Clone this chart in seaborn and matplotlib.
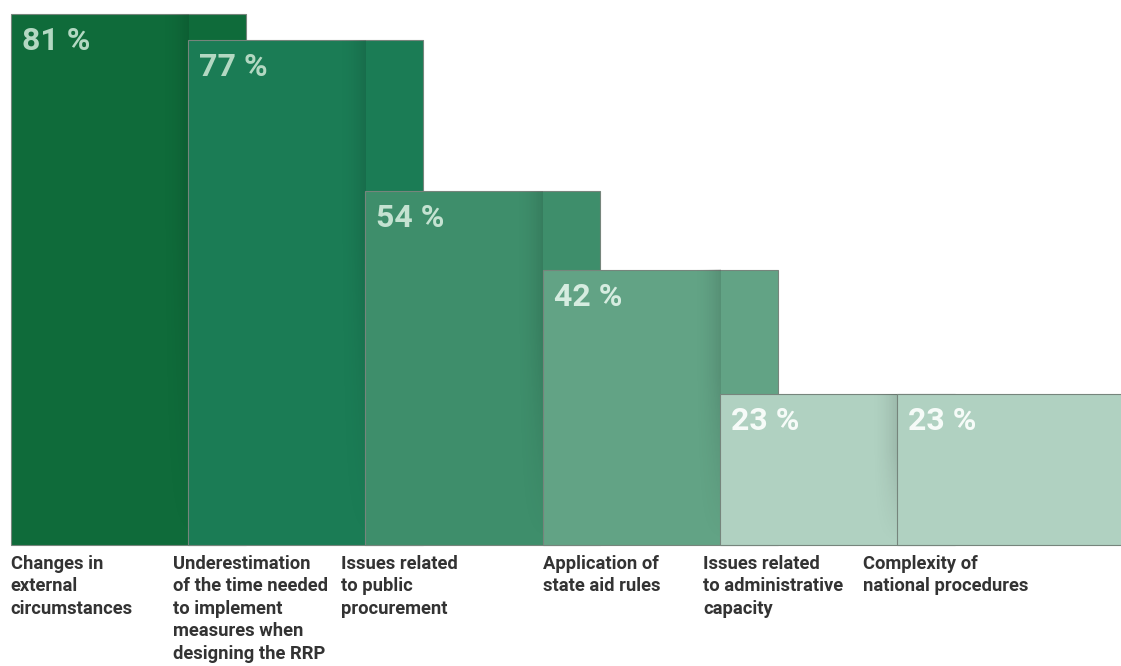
import numpy as np
import pandas as pd
import matplotlib
matplotlib.use("Agg")
import matplotlib.pyplot as plt
import seaborn as sns

categories = [
    "Changes in\nexternal\ncircumstances",
    "Underestimation\nof the time needed\nto implement\nmeasures when\ndesigning the RRP",
    "Issues related\nto public\nprocurement",
    "Application of\nstate aid rules",
    "Issues related\nto administrative\ncapacity",
    "Complexity of\nnational procedures",
]
values = [81, 77, 54, 42, 23, 23]
value_labels = ["81 %", "77 %", "54 %", "42 %", "23 %", "23 %"]

bar_colors = ["#0f6b3a", "#1b7c55", "#3e8e6b", "#62a385", "#b0d1c1", "#b0d1c1"]
value_colors = ["#b3d8c2", "#b3d8c2", "#c4e2d1", "#d6ece0", "#f6fbf8", "#f6fbf8"]
label_shift_px = [0, -15, -24, 0, -17, -34]

sns.set_theme(style="white")
plt.rcParams["font.family"] = ["Roboto", "DejaVu Sans"]

W, H, DPI = 1121, 666, 100
fig = plt.figure(figsize=(W / DPI, H / DPI), dpi=DPI)
ax = fig.add_axes([0, 0, 1, 1])

df = pd.DataFrame({"cat": categories, "val": values})
BW = 1.325
sns.barplot(data=df, x="cat", y="val", hue="cat", palette=bar_colors,
            legend=False, width=BW, ax=ax, saturation=1,
            edgecolor="#76857c", linewidth=0.8)

px_per_unit = 177.3
x_low = -BW / 2 - 10.7 / px_per_unit
ax.set_xlim(x_low, x_low + W / px_per_unit)
px_per_pct = 6.552
ax.set_ylim(-121 / px_per_pct, (H - 121) / px_per_pct)
ax.axis("off")

# soft shadows cast by each bar onto the one to its left
n = len(values)
sh_w = 0.16
hx = np.linspace(0, 1, 64) ** 2.0
vy = np.clip(np.linspace(0, 1, 64) * 1.6, 0, 1)  # fade out toward the top
grad = np.zeros((64, 64, 4))
grad[..., 3] = 0.12 * vy[::-1, None] * hx[None, :]

for i, p in enumerate(ax.patches):
    p.set_zorder(1 + i)
for i in range(1, n):
    left = i - BW / 2
    ax.imshow(grad, extent=[left - sh_w, left, 0, values[i - 1]],
              aspect="auto", zorder=i + 0.5, interpolation="bilinear")

for i, (v, lab) in enumerate(zip(values, value_labels)):
    ax.annotate(lab, xy=(i - BW / 2, v), xytext=(11, -12),
                textcoords="offset pixels", ha="left", va="top",
                fontsize=23, fontweight="bold", color=value_colors[i],
                zorder=20)
    ax.annotate(categories[i], xy=(i - BW / 2, 0), xytext=(label_shift_px[i], -10),
                textcoords="offset pixels", ha="left", va="top",
                fontsize=13.2, fontweight="bold", color="#333333",
                linespacing=1.32, zorder=20)

fig.savefig("out.png", dpi=DPI)
